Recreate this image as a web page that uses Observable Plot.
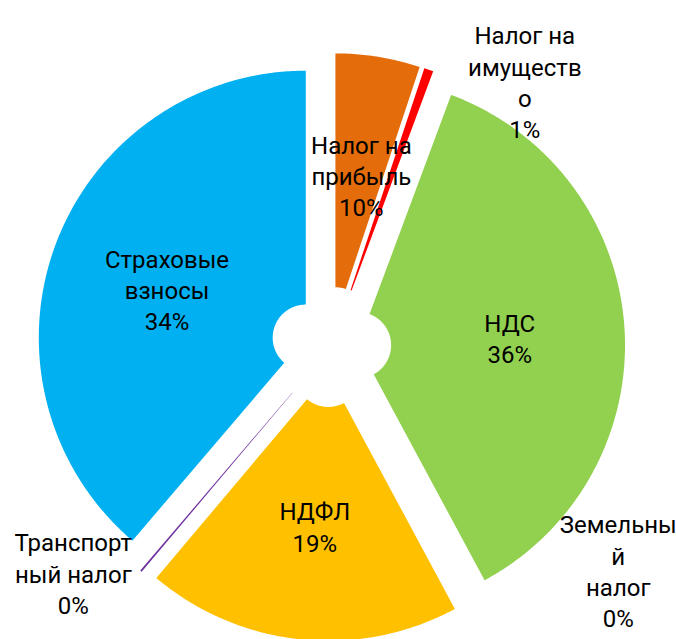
<!DOCTYPE html>
<html>
<head>
<meta charset="utf-8">
<script src="https://cdn.jsdelivr.net/npm/d3@7"></script>
<script src="https://cdn.jsdelivr.net/npm/@observablehq/plot@0.6"></script>
<style>
  html, body { margin: 0; padding: 0; background: #ffffff; }
  #chart svg { display: block; }
</style>
</head>
<body>
<div id="chart"></div>
<script>
// ---- data ----
const categories = [
  "Налог на прибыль",
  "Налог на имущество",
  "НДС",
  "Земельный налог",
  "НДФЛ",
  "Транспортный налог",
  "Страховые взносы"
];
// shares of the ring as drawn (percent of 360°)
const shares = [5.11, 0.56, 36.47, 0, 19.0, 0.11, 38.75];
// label texts as printed on the chart (Excel wrapping kept)
const labelTexts = [
  "Налог на\nприбыль\n10%",
  "Налог на\nимуществ\nо\n1%",
  "НДС\n36%",
  "Земельны\nй\nналог\n0%",
  "НДФЛ\n19%",
  "Транспорт\nный налог\n0%",
  "Страховые\nвзносы\n34%"
];
const colors = ["#E46C0A", "#FF0000", "#92D050", "#4472C4", "#FFC000", "#7030A0", "#00B0F0"];

// ---- layout (chart units: outer radius = 1) ----
const outerR = 1;
const innerR = 0.124;
const explode = 0.101;
// outside labels placed manually (offset from ring centre, chart units)
const outsideLabels = {
  "Налог на имущество": [0.718, 1.007],
  "Земельный налог": [1.068, -0.825],
  "Транспортный налог": [-0.973, -0.834]
};

const total = d3.sum(shares);
let acc = 0;
const slices = categories.map((name, i) => {
  const a0 = acc / total * 2 * Math.PI;
  acc += shares[i];
  const a1 = acc / total * 2 * Math.PI;
  const mid = (a0 + a1) / 2;
  return {name, value: shares[i], a0, a1, mid, ox: explode * Math.sin(mid), oy: explode * Math.cos(mid), label: labelTexts[i]};
});

const ringPoints = [];
for (const s of slices) {
  if (s.value <= 0) continue;
  const n = Math.max(2, Math.ceil((s.a1 - s.a0) / 0.01));
  for (let k = 0; k <= n; k++) {
    const a = s.a0 + (s.a1 - s.a0) * k / n;
    ringPoints.push({name: s.name, x: s.ox + outerR * Math.sin(a), y: s.oy + outerR * Math.cos(a)});
  }
  for (let k = n; k >= 0; k--) {
    const a = s.a0 + (s.a1 - s.a0) * k / n;
    ringPoints.push({name: s.name, x: s.ox + innerR * Math.sin(a), y: s.oy + innerR * Math.cos(a)});
  }
}

const labels = slices.map(s => {
  if (outsideLabels[s.name]) {
    const [x, y] = outsideLabels[s.name];
    return {text: s.label, x, y};
  }
  const rm = (outerR + innerR) / 2;
  return {text: s.label, x: s.ox + rm * Math.sin(s.mid), y: s.oy + rm * Math.cos(s.mid)};
});

const W = 676, H = 639;
const chart = Plot.plot({
  width: W,
  height: H,
  margin: 0,
  x: {domain: [-1.2382, 1.2936], axis: null},
  y: {domain: [-1.0955, 1.2978], axis: null},
  color: {domain: categories, range: colors},
  style: {background: "#ffffff"},
  marks: [
    Plot.line(ringPoints, {x: "x", y: "y", z: "name", fill: "name", stroke: "none", curve: "linear-closed"}),
    Plot.text(labels, {
      x: "x", y: "y", text: "text",
      dx: 2, dy: 3,
      fontSize: 24,
      fontFamily: "Roboto, 'Noto Sans', sans-serif",
      fill: "#000000",
      lineHeight: 1.3,
      lineAnchor: "middle",
      textAnchor: "middle"
    })
  ]
});
document.getElementById("chart").appendChild(chart);
</script>
</body>
</html>
